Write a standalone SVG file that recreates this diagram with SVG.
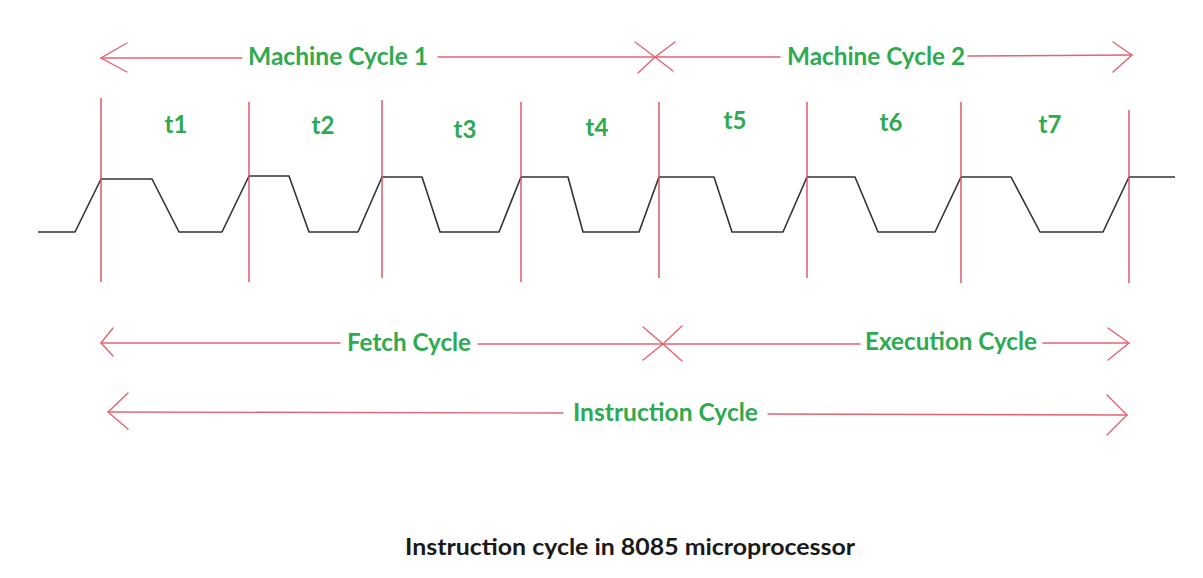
<svg xmlns="http://www.w3.org/2000/svg" width="1203" height="578" viewBox="0 0 1203 578">
  <style>
    .red { stroke: #e26472; stroke-width: 1.4; fill: none; stroke-linecap: round; }
    .vline { stroke: #d9505e; stroke-width: 1.4; fill: none; }
    .wave { stroke: #333333; stroke-width: 1.6; fill: none; stroke-linejoin: round; }
    .lbl { font-family: "Lato", "Open Sans", sans-serif; font-weight: bold; font-size: 24px; fill: #2eaa50; }
    .tl { font-family: "Lato", "Open Sans", sans-serif; font-weight: bold; font-size: 24px; fill: #2eaa50; text-anchor: middle; }
    .cap { font-family: "Lato", "Open Sans", sans-serif; font-weight: bold; font-size: 22px; fill: #1a1a1a; }
  </style>
  <rect width="1203" height="578" fill="#ffffff"/>

  <g id="clock-wave">
    <polyline class="wave" points="38,232 75,232 101,179 152,179 179,232 222,232 249,176 289,176 309,232 358,232 382,177 422,177 440,232 499,232 521,177 568,177 583,232 639,232 659,177 714,177 732,232 783,232 807,177 855,177 878,232 935,232 961,177 1011,177 1040,232 1103,232 1129,177 1175,177"/>
  </g>

  <g id="state-boundaries">
    <line class="vline" x1="101" y1="98" x2="101" y2="282"/>
    <line class="vline" x1="249" y1="102" x2="249" y2="282"/>
    <line class="vline" x1="382" y1="100" x2="382" y2="278"/>
    <line class="vline" x1="521" y1="102" x2="521" y2="282"/>
    <line class="vline" x1="659" y1="102" x2="659" y2="278"/>
    <line class="vline" x1="807" y1="102" x2="807" y2="278"/>
    <line class="vline" x1="961" y1="102" x2="961" y2="283"/>
    <line class="vline" x1="1129" y1="110" x2="1129" y2="283"/>
  </g>

  <g id="t-states">
    <text class="tl" x="176" y="133">t1</text>
    <text class="tl" x="323" y="134">t2</text>
    <text class="tl" x="465" y="138">t3</text>
    <text class="tl" x="597" y="136">t4</text>
    <text class="tl" x="735" y="129">t5</text>
    <text class="tl" x="891" y="131">t6</text>
    <text class="tl" x="1050" y="133">t7</text>
  </g>

  <g id="connectors">
    <!-- Machine Cycle 1 -->
    <line class="red" x1="101" y1="58" x2="242" y2="58"/>
    <line class="red" x1="438" y1="57" x2="655" y2="57"/>
    <polyline class="red" points="127,43 101,58 127,72"/>
    <polyline class="red" points="635,42 655,57 638,73"/>
    <!-- Machine Cycle 2 -->
    <line class="red" x1="655" y1="57" x2="780" y2="57"/>
    <line class="red" x1="968" y1="56" x2="1132" y2="55"/>
    <polyline class="red" points="675,42 655,57 673,71"/>
    <polyline class="red" points="1113,42 1132,55 1113,72"/>
    <!-- Fetch Cycle -->
    <line class="red" x1="101" y1="343" x2="340" y2="343"/>
    <line class="red" x1="478" y1="344" x2="663" y2="344"/>
    <polyline class="red" points="113,328 101,343 113,356"/>
    <polyline class="red" points="643,327 663,344 643,360"/>
    <!-- Execution Cycle -->
    <line class="red" x1="663" y1="344" x2="860" y2="344"/>
    <line class="red" x1="1043" y1="343" x2="1129" y2="343"/>
    <polyline class="red" points="682,326 663,344 682,361"/>
    <polyline class="red" points="1108,328 1129,343 1108,360"/>
    <!-- Instruction Cycle -->
    <line class="red" x1="108" y1="412" x2="563" y2="413"/>
    <line class="red" x1="768" y1="414" x2="1127" y2="415"/>
    <polyline class="red" points="128,393 108,412 128,429"/>
    <polyline class="red" points="1107,395 1127,415 1107,435"/>
  </g>

  <g id="label-machine-cycle-1">
    <text class="lbl" x="248" y="65" textLength="180" lengthAdjust="spacingAndGlyphs">Machine Cycle 1</text>
  </g>
  <g id="label-machine-cycle-2">
    <text class="lbl" x="787" y="65" textLength="178" lengthAdjust="spacingAndGlyphs">Machine Cycle 2</text>
  </g>
  <g id="label-fetch-cycle">
    <text class="lbl" x="347" y="351" textLength="124" lengthAdjust="spacingAndGlyphs">Fetch Cycle</text>
  </g>
  <g id="label-execution-cycle">
    <text class="lbl" x="865" y="350" textLength="172" lengthAdjust="spacingAndGlyphs">Execution Cycle</text>
  </g>
  <g id="label-instruction-cycle">
    <text class="lbl" x="573" y="421" textLength="185" lengthAdjust="spacingAndGlyphs">Instruction Cycle</text>
  </g>

  <g id="caption">
    <text class="cap" x="405" y="555" textLength="450" lengthAdjust="spacingAndGlyphs">Instruction cycle in 8085 microprocessor</text>
  </g>
</svg>
